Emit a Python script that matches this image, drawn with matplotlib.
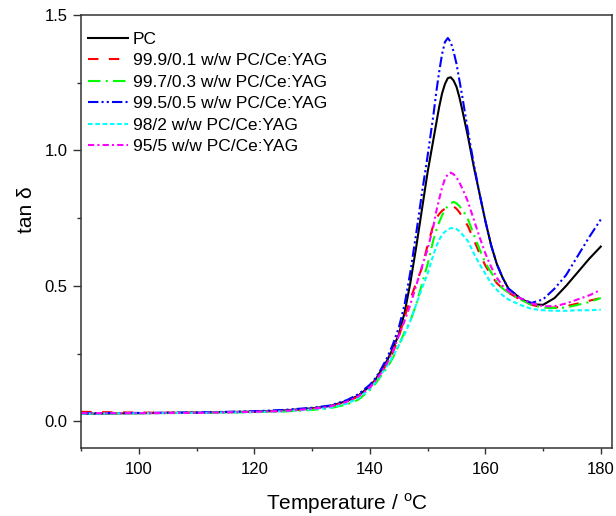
import matplotlib
matplotlib.use('Agg')
import matplotlib.pyplot as plt
from matplotlib.ticker import MultipleLocator, FormatStrFormatter

plt.rcParams['font.family'] = ['Liberation Sans', 'DejaVu Sans']
plt.rcParams['mathtext.fontset'] = 'custom'
plt.rcParams['mathtext.rm'] = 'Liberation Sans'

# temperature grid (deg C)
temp = [90, 100, 110, 120, 125, 130, 133, 136, 138, 140, 141, 142, 143, 144, 145,
        146, 147, 148, 149, 150, 151, 151.5, 152, 152.5, 153, 153.5, 154, 154.5, 155, 155.5,
        156, 156.5, 157, 158, 159, 160, 161, 162, 163, 164, 166, 168, 170, 172, 174, 176, 178, 180]

pc = [0.028, 0.030, 0.032, 0.036, 0.040, 0.048, 0.056, 0.075, 0.095, 0.13, 0.155, 0.19, 0.225, 0.27, 0.32,
      0.40, 0.51, 0.64, 0.78, 0.92, 1.04, 1.10, 1.16, 1.21, 1.245, 1.267, 1.27, 1.258, 1.235, 1.197,
      1.15, 1.10, 1.05, 0.94, 0.84, 0.74, 0.65, 0.58, 0.53, 0.49, 0.455, 0.432, 0.43, 0.455, 0.50, 0.55, 0.60, 0.645]

pc_01 = [0.035, 0.032, 0.032, 0.035, 0.038, 0.046, 0.054, 0.072, 0.092, 0.125, 0.15, 0.18, 0.215, 0.255, 0.31,
         0.385, 0.45, 0.51, 0.565, 0.65, 0.725, 0.75, 0.765, 0.777, 0.785, 0.792, 0.795, 0.793, 0.785, 0.772,
         0.755, 0.738, 0.72, 0.67, 0.62, 0.575, 0.54, 0.51, 0.49, 0.475, 0.45, 0.43, 0.42, 0.42, 0.425, 0.435, 0.445, 0.455]

pc_03 = [0.030, 0.030, 0.031, 0.034, 0.036, 0.042, 0.048, 0.062, 0.08, 0.115, 0.14, 0.17, 0.198, 0.235, 0.28,
         0.33, 0.37, 0.43, 0.505, 0.58, 0.67, 0.705, 0.735, 0.76, 0.78, 0.795, 0.805, 0.81, 0.805, 0.795,
         0.78, 0.765, 0.745, 0.69, 0.635, 0.585, 0.55, 0.515, 0.49, 0.475, 0.45, 0.43, 0.42, 0.418, 0.42, 0.43, 0.44, 0.455]

pc_05 = [0.030, 0.031, 0.033, 0.037, 0.042, 0.050, 0.058, 0.078, 0.10, 0.135, 0.16, 0.195, 0.235, 0.285, 0.345,
         0.43, 0.55, 0.69, 0.84, 0.98, 1.13, 1.215, 1.29, 1.355, 1.40, 1.415, 1.40, 1.365, 1.32, 1.26,
         1.20, 1.135, 1.07, 0.95, 0.84, 0.74, 0.65, 0.58, 0.53, 0.49, 0.455, 0.437, 0.45, 0.49, 0.54, 0.61, 0.68, 0.745]

pc_2 = [0.028, 0.030, 0.031, 0.034, 0.037, 0.044, 0.050, 0.065, 0.085, 0.12, 0.145, 0.175, 0.205, 0.24, 0.28,
        0.32, 0.37, 0.43, 0.49, 0.545, 0.615, 0.645, 0.67, 0.688, 0.70, 0.708, 0.713, 0.713, 0.71, 0.702,
        0.69, 0.678, 0.665, 0.62, 0.58, 0.545, 0.51, 0.485, 0.465, 0.45, 0.43, 0.415, 0.41, 0.408, 0.408, 0.41, 0.41, 0.412]

pc_5 = [0.030, 0.030, 0.031, 0.035, 0.038, 0.046, 0.054, 0.072, 0.092, 0.125, 0.15, 0.18, 0.215, 0.26, 0.315,
        0.37, 0.43, 0.50, 0.57, 0.635, 0.72, 0.775, 0.82, 0.862, 0.895, 0.912, 0.918, 0.912, 0.90, 0.882,
        0.86, 0.836, 0.81, 0.745, 0.68, 0.62, 0.57, 0.53, 0.50, 0.48, 0.455, 0.435, 0.425, 0.425, 0.435, 0.45, 0.465, 0.485]

labels = ['PC', '99.9/0.1 w/w PC/Ce:YAG', '99.7/0.3 w/w PC/Ce:YAG',
          '99.5/0.5 w/w PC/Ce:YAG', '98/2 w/w PC/Ce:YAG', '95/5 w/w PC/Ce:YAG']

fig = plt.figure(figsize=(6.16, 5.16), dpi=100)
ax = fig.add_axes([0.132, 0.131, 0.862, 0.840])

lw = 1.5
ax.plot(temp, pc, color='black', lw=lw, label=labels[0])
ax.plot(temp, pc_01, color='#ff0000', lw=lw, dashes=(5, 5), label=labels[1])
ax.plot(temp, pc_03, color='#00ff00', lw=lw, dashes=(6, 2.5, 1, 2.5), label=labels[2])
ax.plot(temp, pc_05, color='#0000ff', lw=lw, dashes=(5, 1.5, 1, 1.5, 1, 1.5), label=labels[3])
ax.plot(temp, pc_2, color='#00ffff', lw=lw, dashes=(2.2, 1.3), label=labels[4])
ax.plot(temp, pc_5, color='#ff00ff', lw=lw, dashes=(3, 1.5, 1, 1.5), label=labels[5])

ax.set_xlim(90, 182)
ax.set_ylim(-0.1, 1.5)
ax.xaxis.set_major_locator(MultipleLocator(20))
ax.xaxis.set_minor_locator(MultipleLocator(10))
ax.yaxis.set_major_locator(MultipleLocator(0.5))
ax.yaxis.set_minor_locator(MultipleLocator(0.25))
ax.yaxis.set_major_formatter(FormatStrFormatter('%.1f'))
ax.tick_params(which='both', direction='out', top=False, right=False, width=1.0,
               labelsize=12, color='#333333')
ax.tick_params(axis='y', which='major', length=6, pad=4)
ax.tick_params(axis='y', which='minor', length=3)
ax.tick_params(axis='x', which='major', length=4, pad=6)
ax.tick_params(axis='x', which='minor', length=2.5)
for s in ax.spines.values():
    s.set_linewidth(1.1)
    s.set_color('#333333')

ax.set_xlabel('Temperature / $^{\\rm o}$C', fontsize=15)
ax.set_ylabel('tan δ', fontsize=15)
ax.yaxis.set_label_coords(-0.086, 0.55)
ax.xaxis.set_label_coords(0.5, -0.1)

ax.legend(loc='upper left', bbox_to_anchor=(0.012, 0.961), frameon=False, fontsize=12.5,
          handlelength=2.3, handletextpad=0.3, labelspacing=0.36, borderpad=0, borderaxespad=0)

fig.savefig('out.png', dpi=100)
